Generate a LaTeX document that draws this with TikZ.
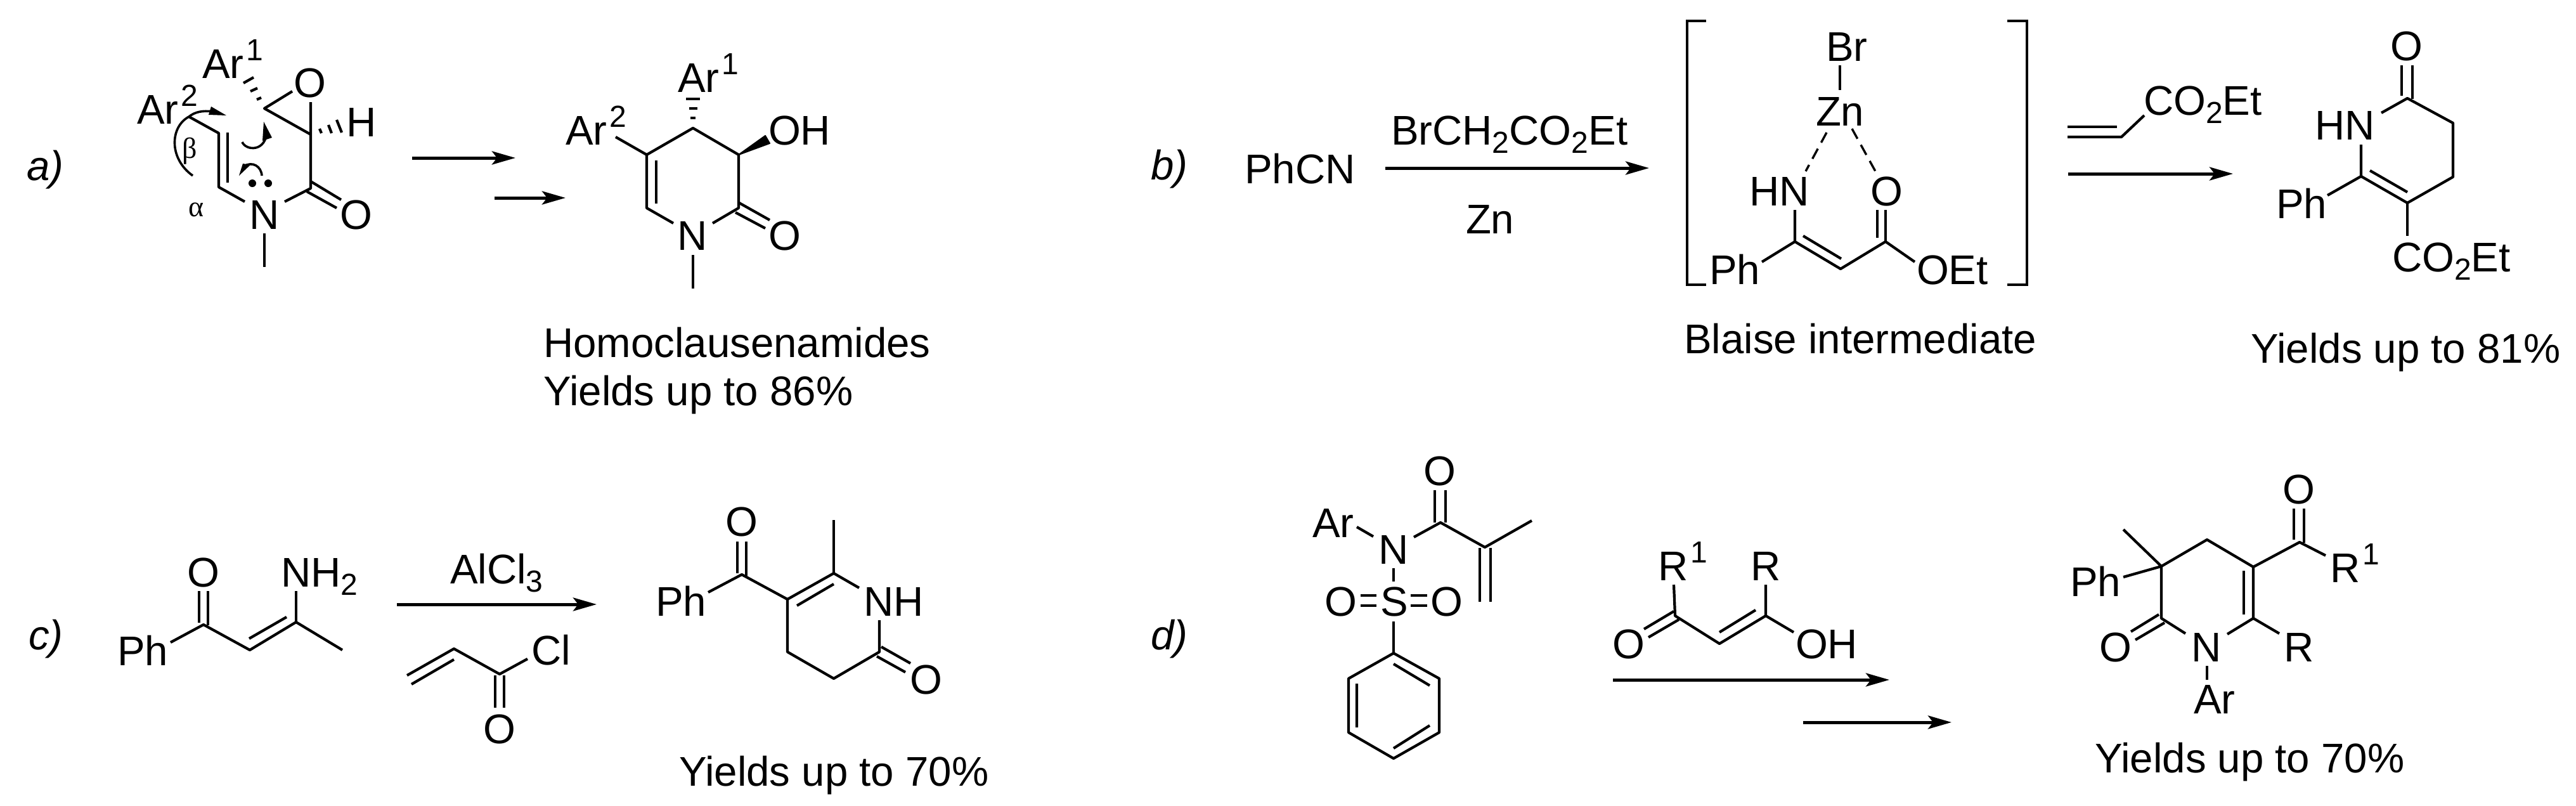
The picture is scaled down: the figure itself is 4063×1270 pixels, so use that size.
\documentclass[tikz,border=0pt]{standalone}
\usepackage{fontspec}
\setmainfont{Liberation Sans}
\newfontfamily\grkfont{Liberation Serif}
\usetikzlibrary{arrows.meta}
\newcommand{\subn}[1]{\raisebox{-6.5pt}{\fontsize{24pt}{24pt}\selectfont #1}}
\newcommand{\supn}[1]{\raisebox{14pt}{\hspace{2pt}\fontsize{24pt}{24pt}\selectfont #1}}
\tikzset{
  lbl/.style={anchor=base west,inner sep=0pt,outer sep=0pt,font=\fontsize{32.7pt}{38pt}\selectfont},
  tag/.style={lbl,font=\fontsize{32.7pt}{38pt}\selectfont\itshape},
  grk/.style={anchor=center,inner sep=0pt,font=\fontsize{23pt}{26pt}\selectfont\grkfont},
  bond/.style={line width=2.1pt,line join=round},
  hash/.style={line width=2.1pt},
  brack/.style={line width=2pt,line join=miter},
  dashbond/.style={line width=1.7pt,dash pattern=on 9pt off 5.5pt},
  curve/.style={line width=1.8pt},
  rxn/.style={line width=2.5pt,-{Stealth[length=18.5pt,width=10.5pt,inset=4pt]}},
  halfhead/.style={fill=black,draw=none}
}
\begin{document}
\begin{tikzpicture}[x=0.5pt,y=-0.5pt]
\useasboundingbox (0,0) rectangle (4063,1270);
%% ---------- a)
\node[tag] (ta) at (42,284) {a)};
\node[lbl] (aAr1) at (319,123) {Ar\supn{1}};
\node[lbl] (aAr2) at (216,195) {Ar\supn{2}};
\node[lbl] (aO1) at (463,153) {O};
\node[lbl] (aH) at (546,215) {H};
\node[lbl] (aN) at (393,361) {N};
\node[lbl] (aO2) at (536,361) {O};
\node[grk] (abeta) at (299,238) {β};
\node[grk] (aalpha) at (310,331) {α};
\draw[bond] (298,184) -- (345,210) -- (345,295) -- (386,318);
\draw[bond] (359,209) -- (359,288);
\draw[bond] (449,318) -- (490,297) -- (490,161);
\draw[bond] (461,144) -- (417,171) -- (490,212);
\draw[bond] (490,286) -- (538,315) (484,302) -- (531,328);
\draw[bond] (417,368) -- (417,421);
\draw[hash] (384,131) -- (400,122) (395,144) -- (406,139) (405,157) -- (412,154);
\draw[hash] (504,203) -- (507,210) (518,197) -- (523,210) (531,189) -- (539,209);
\draw[curve] (304,277) .. controls (266,250) and (268,200) .. (298,184) .. controls (308,176) and (320,174) .. (336,176);
\fill[halfhead] (333,168) -- (357,182) -- (329,181) -- cycle;
\draw[curve] (382,224) .. controls (388,238) and (420,240) .. (421,206);
\fill[halfhead] (416,192) -- (429,217) -- (414,222) -- cycle;
\draw[curve] (413,277) .. controls (412,262) and (398,254) .. (385,262);
\fill[halfhead] (377,277) -- (383,258) -- (395,260) -- cycle;
\fill (398,289) circle (6);
\fill (423,289) circle (6);
\coordinate (a1s) at (650,249); \coordinate (a1e) at (813,249);
\coordinate (a2s) at (780,312); \coordinate (a2e) at (892,312);
\draw[rxn] (a1s) -- (a1e);
\draw[rxn] (a2s) -- (a2e);
\node[lbl] (pAr1) at (1069,145) {Ar\supn{1}};
\node[lbl] (pAr2) at (892,228) {Ar\supn{2}};
\node[lbl] (pOH) at (1212,228) {OH};
\node[lbl] (pN) at (1068,394) {N};
\node[lbl] (pO) at (1212,394) {O};
\draw[bond] (971,216) -- (1020,244) -- (1093,202) -- (1165,244) -- (1165,328) -- (1124,352);
\draw[bond] (1020,244) -- (1020,328) -- (1062,352);
\draw[bond] (1035,253) -- (1035,321);
\draw[bond] (1166,320) -- (1214,347) (1160,335) -- (1207,360);
\draw[bond] (1093,402) -- (1093,455);
\filldraw[line width=1pt,line join=round] (1165,244) -- (1207,214) -- (1214,226) -- cycle;
\draw[hash] (1082,156) -- (1104,156) (1087,171) -- (1100,171) (1089,186) -- (1097,186);
\node[lbl] (pHomo) at (857,563) {Homoclausenamides};
\node[lbl] (pY86) at (857,639) {Yields up to 86\%};
%% ---------- b)
\node[tag] (tb) at (1815,283) {b)};
\node[lbl] (bPhCN) at (1963,289) {PhCN};
\node[lbl] (bReag) at (2194,228) {BrCH\subn{2}CO\subn{2}Et};
\node[lbl] (bZn) at (2312,368) {Zn};
\coordinate (b1s) at (2185,265); \coordinate (b1e) at (2601,265);
\draw[rxn] (b1s) -- (b1e);
\draw[brack] (2691,33) -- (2661,33) -- (2661,449) -- (2691,449);
\draw[brack] (3166,33) -- (3197,33) -- (3197,449) -- (3166,449);
\node[lbl] (iBr) at (2880,96) {Br};
\node[lbl] (iZn) at (2864,198) {Zn};
\node[lbl] (iHN) at (2759,324) {HN};
\node[lbl] (iO) at (2950,324) {O};
\node[lbl] (iPh) at (2696,448) {Ph};
\node[lbl] (iOEt) at (3023,448) {OEt};
\draw[bond] (2902,103) -- (2902,142);
\draw[dashbond] (2881,209) -- (2848,270);
\draw[dashbond] (2921,203) -- (2959,272);
\draw[bond] (2831,331) -- (2831,381) -- (2903,424) -- (2974,381) -- (3020,413);
\draw[bond] (2779,413) -- (2831,381);
\draw[bond] (2844,372) -- (2904,408);
\draw[bond] (2961,331) -- (2961,375) (2974,331) -- (2974,381);
\node[lbl] (iBlaise) at (2656,557) {Blaise intermediate};
\node[lbl] (bAcr) at (3381,181) {CO\subn{2}Et};
\draw[bond] (3261,216) -- (3346,216) -- (3382,182);
\draw[bond] (3261,200) -- (3339,200);
\coordinate (b2s) at (3262,274); \coordinate (b2e) at (3522,274);
\draw[rxn] (b2s) -- (b2e);
\node[lbl] (bO) at (3770,95) {O};
\node[lbl] (bHN) at (3651,220) {HN};
\node[lbl] (bPh) at (3590,344) {Ph};
\node[lbl] (bCO) at (3773,428) {CO\subn{2}Et};
\draw[bond] (3788,103) -- (3788,151) (3805,103) -- (3805,156);
\draw[bond] (3756,178) -- (3797,155) -- (3869,194) -- (3869,279) -- (3797,320) -- (3724,278) -- (3724,228);
\draw[bond] (3738,269) -- (3797,303);
\draw[bond] (3671,308) -- (3724,278);
\draw[bond] (3797,320) -- (3797,372);
\node[lbl] (bY) at (3550,572) {Yields up to 81\%};
%% ---------- c)
\node[tag] (tc) at (45,1024) {c)};
\node[lbl] (cPh) at (185,1049) {Ph};
\node[lbl] (cO) at (295,925) {O};
\node[lbl] (cNH) at (443,925) {NH\subn{2}};
\draw[bond] (314,932) -- (314,982) (328,932) -- (328,986);
\draw[bond] (269,1013) -- (321,985) -- (394,1025) -- (467,981) -- (540,1025);
\draw[bond] (467,932) -- (467,981);
\draw[bond] (393,1007) -- (452,973);
\node[lbl] (cAl) at (710,920) {AlCl\subn{3}};
\coordinate (c1s) at (626,953); \coordinate (c1e) at (941,953);
\draw[rxn] (c1s) -- (c1e);
\draw[bond] (642,1065) -- (716,1023) -- (788,1063) -- (832,1039);
\draw[bond] (649,1079) -- (716,1040);
\draw[bond] (781,1065) -- (781,1116) (795,1065) -- (795,1116);
\node[lbl] (cCl) at (838,1048) {Cl};
\node[lbl] (cO2) at (762,1172) {O};
\node[lbl] (ppO) at (1144,845) {O};
\node[lbl] (ppPh) at (1034,971) {Ph};
\node[lbl] (ppNH) at (1362,971) {NH};
\node[lbl] (ppO2) at (1435,1094) {O};
\draw[bond] (1163,854) -- (1163,904) (1177,854) -- (1177,908);
\draw[bond] (1117,934) -- (1170,906) -- (1242,945) -- (1315,904) -- (1355,927);
\draw[bond] (1315,820) -- (1315,904);
\draw[bond] (1257,955) -- (1315,921);
\draw[bond] (1242,945) -- (1242,1028) -- (1315,1070) -- (1387,1028) -- (1387,978);
\draw[bond] (1390,1020) -- (1436,1046) (1383,1035) -- (1428,1060);
\node[lbl] (ppY) at (1071,1239) {Yields up to 70\%};
%% ---------- d)
\node[tag] (td) at (1815,1024) {d)};
\node[lbl] (dAr) at (2070,847) {Ar};
\node[lbl] (dN) at (2174,889) {N};
\node[lbl] (dOt) at (2245,765) {O};
\node[lbl] (dS) at (2177,971) {S};
\node[lbl] (dOl) at (2089,971) {O};
\node[lbl] (dOr) at (2256,971) {O};
\draw[bond] (2140,831) -- (2166,846);
\draw[bond] (2230,847) -- (2272,824) -- (2342,863) -- (2416,821);
\draw[bond] (2263,773) -- (2263,824) (2280,773) -- (2280,824);
\draw[bond] (2334,864) -- (2334,949) (2351,864) -- (2351,949);
\draw[bond] (2198,896) -- (2198,917);
\draw[bond] (2146,939) -- (2171,939) (2146,955) -- (2171,955);
\draw[bond] (2225,939) -- (2251,939) (2225,955) -- (2251,955);
\draw[bond] (2198,980) -- (2198,1030);
\draw[bond] (2198,1030) -- (2270,1070) -- (2270,1155) -- (2198,1196) -- (2127,1155) -- (2127,1070) -- cycle;
\draw[bond] (2198,1047) -- (2255,1081) (2140,1078) -- (2140,1147) (2198,1180) -- (2255,1144);
\node[lbl] (dR1) at (2615,915) {R\supn{1}};
\node[lbl] (dR) at (2761,915) {R};
\node[lbl] (dO2) at (2543,1038) {O};
\node[lbl] (dOH) at (2832,1038) {OH};
\draw[bond] (2640,922) -- (2642,971) -- (2712,1015) -- (2785,971) -- (2785,922);
\draw[bond] (2785,971) -- (2829,997);
\draw[bond] (2640,964) -- (2593,992) (2648,977) -- (2600,1005);
\draw[bond] (2712,997) -- (2769,962);
\coordinate (d1s) at (2544,1072); \coordinate (d1e) at (2980,1072);
\coordinate (d2s) at (2844,1139); \coordinate (d2e) at (3078,1139);
\draw[rxn] (d1s) -- (d1e);
\draw[rxn] (d2s) -- (d2e);
\node[lbl] (eO) at (3600,794) {O};
\node[lbl] (ePh) at (3265,940) {Ph};
\node[lbl] (eR1) at (3675,918) {R\supn{1}};
\node[lbl] (eR) at (3602,1043) {R};
\node[lbl] (eN) at (3456,1043) {N};
\node[lbl] (eO2) at (3311,1043) {O};
\node[lbl] (eAr) at (3460,1125) {Ar};
\draw[bond] (3618,802) -- (3618,851) (3634,802) -- (3634,856);
\draw[bond] (3668,876) -- (3627,855) -- (3554,894) -- (3554,975) -- (3513,1000);
\draw[bond] (3554,975) -- (3595,999);
\draw[bond] (3539,900) -- (3539,969);
\draw[bond] (3554,894) -- (3481,851) -- (3409,893) -- (3409,975) -- (3447,999);
\draw[bond] (3349,835) -- (3409,893) -- (3349,910);
\draw[bond] (3405,969) -- (3361,996) (3414,982) -- (3368,1009);
\draw[bond] (3481,1050) -- (3481,1072);
\node[lbl] (eY) at (3304,1218) {Yields up to 70\%};
\end{tikzpicture}
\end{document}
